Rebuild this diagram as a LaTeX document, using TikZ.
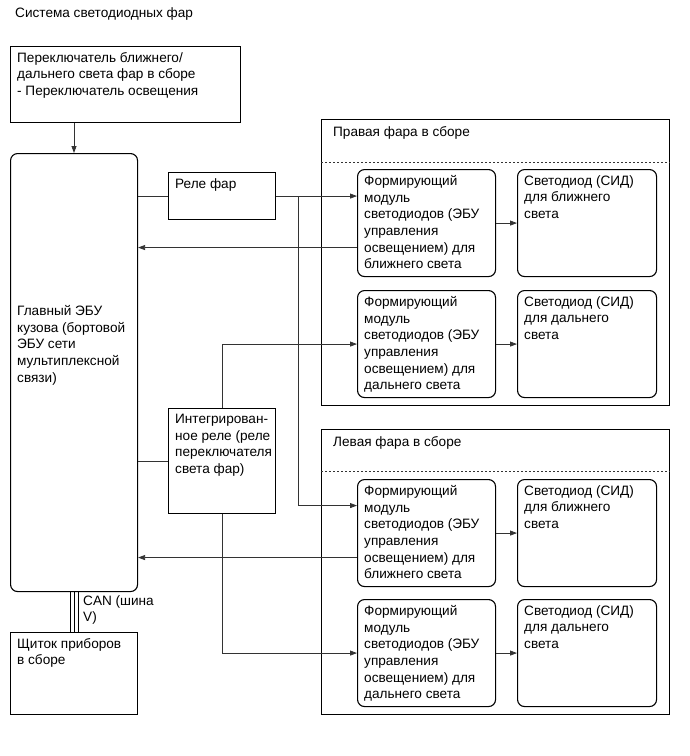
\documentclass[tikz,border=0pt]{standalone}
\usepackage{fontspec}
\setmainfont{Liberation Sans}
\usetikzlibrary{arrows.meta,positioning,calc}
\tikzset{
  %% boxes
  box/.style  = {draw, line width=1.1pt, inner sep=0pt, anchor=north west},
  rbox/.style = {box, rounded corners=7pt},
  lbl/.style  = {anchor=north west, inner sep=0pt, xshift=7pt, yshift=-6pt,
                 align=left, font=\fontsize{13.6}{16.7}\selectfont},
  txt/.style  = {anchor=north west, inner sep=0pt, align=left,
                 font=\fontsize{13.6}{16.7}\selectfont},
  %% connectors
  wire/.style = {line width=0.75pt, draw=black!80},
  arr/.style  = {wire, -{Triangle[length=7pt,width=5pt]}},
}
\begin{document}
\begin{tikzpicture}[x=1pt, y=-1pt]
  \fill[white] (0,0) rectangle (689,756);
  \useasboundingbox (0,0) rectangle (689,756);

  %% title
  \node[txt, anchor=west] (title) at (15,14) {Система светодиодных фар};

  %% left column
  \node[box, minimum width=230pt, minimum height=76pt,
        label={[lbl]north west:Переключатель ближнего/\\дальнего света фар в сборе\\- Переключатель освещения}]
        (sw) at (10,46) {};
  \node[rbox, minimum width=127pt, minimum height=438pt] (ecu) at (10,153) {};
  \node[txt] (ecutxt) at (17,305)
    {Главный ЭБУ\\кузова (бортовой\\ЭБУ сети\\мультиплексной\\связи)};
  \node[box, minimum width=127pt, minimum height=82pt,
        label={[lbl]north west:Щиток приборов\\в сборе}]
        (cl) at (10,632) {};
  \node[txt] (can) at (83,595) {CAN (шина\\V)};

  %% relays
  \node[box, minimum width=107pt, minimum height=47pt,
        label={[lbl]north west:Реле фар}]
        (hrel) at (168,172) {};
  \node[box, minimum width=107pt, minimum height=105pt,
        label={[lbl]north west:Интегрирован-\\ное реле (реле\\переключателя\\света фар)}]
        (irel) at (168,408) {};

  %% right headlamp
  \node[box, minimum width=348pt, minimum height=286pt,
        label={[lbl, xshift=5pt, yshift=-1pt]north west:Правая фара в сборе}]
        (rhl) at (321,119) {};
  \draw[wire, dashed, dash pattern=on 2pt off 2pt] ([yshift=-43pt]rhl.north west) -- ([yshift=-43pt]rhl.north east);
  \node[rbox, minimum width=138pt, minimum height=107pt,
        label={[lbl]north west:Формирующий\\модуль\\светодиодов (ЭБУ\\управления\\освещением) для\\ближнего света}]
        (mRL) at (357,169) {};
  \node[rbox, minimum width=139pt, minimum height=107pt,
        label={[lbl]north west:Светодиод (СИД)\\для ближнего\\света}]
        (lRL) at (517,169) {};
  \node[rbox, minimum width=138pt, minimum height=107pt,
        label={[lbl]north west:Формирующий\\модуль\\светодиодов (ЭБУ\\управления\\освещением) для\\дальнего света}]
        (mRH) at (357,290) {};
  \node[rbox, minimum width=139pt, minimum height=107pt,
        label={[lbl]north west:Светодиод (СИД)\\для дальнего\\света}]
        (lRH) at (517,290) {};

  %% left headlamp
  \node[box, minimum width=348pt, minimum height=285pt,
        label={[lbl, xshift=5pt, yshift=-1pt]north west:Левая фара в сборе}]
        (lhl) at (321,429) {};
  \draw[wire, dashed, dash pattern=on 2pt off 2pt] ([yshift=-42pt]lhl.north west) -- ([yshift=-42pt]lhl.north east);
  \node[rbox, minimum width=138pt, minimum height=107pt,
        label={[lbl]north west:Формирующий\\модуль\\светодиодов (ЭБУ\\управления\\освещением) для\\ближнего света}]
        (mLL) at (357,479) {};
  \node[rbox, minimum width=139pt, minimum height=107pt,
        label={[lbl]north west:Светодиод (СИД)\\для ближнего\\света}]
        (lLL) at (517,479) {};
  \node[rbox, minimum width=138pt, minimum height=107pt,
        label={[lbl]north west:Формирующий\\модуль\\светодиодов (ЭБУ\\управления\\освещением) для\\дальнего света}]
        (mLH) at (357,599) {};
  \node[rbox, minimum width=139pt, minimum height=107pt,
        label={[lbl]north west:Светодиод (СИД)\\для дальнего\\света}]
        (lLH) at (517,599) {};

  %% connectors
  \draw[arr] ([xshift=64pt]sw.south west) -- ([xshift=64pt]ecu.north west);
  \draw[wire] (ecu.east |- hrel.west) -- (hrel.west);
  \draw[arr] (hrel.east) -- (mRL.west |- hrel.east);
  \coordinate (tap) at ([xshift=22pt]hrel.east);
  \draw[arr] (tap) |- ([yshift=27.5pt]mLL.west);
  \draw[arr] ([yshift=-24.5pt]mRL.west) coordinate (oR) -- (oR -| ecu.east);
  \draw[arr] ([yshift=-24.5pt]mLL.west) coordinate (oL) -- (oL -| ecu.east);
  \draw[wire] (ecu.east |- irel.west) -- (irel.west);
  \draw[arr] (irel.north) |- (mRH.west);
  \draw[arr] (irel.south) |- (mLH.west);
  \foreach \m/\l in {mRL/lRL, mRH/lRH, mLL/lLL, mLH/lLH}
    \draw[arr] (\m) -- (\l);
  \foreach \dx in {-4pt,0pt,4pt}
    \draw[line width=1.1pt] ([xshift=\dx]ecu.south) -- ([xshift=\dx]cl.north);

\end{tikzpicture}
\end{document}
